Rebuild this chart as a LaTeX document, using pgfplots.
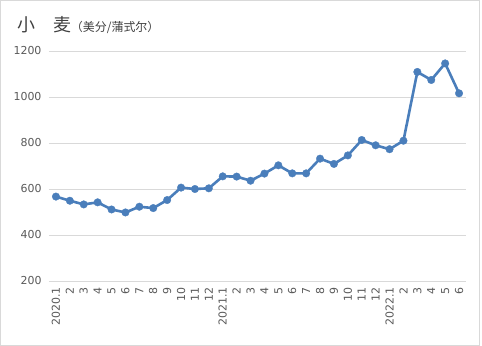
\documentclass[border=0pt]{standalone}
\usepackage{pgfplots}
\pgfplotsset{compat=1.18}
\usepackage{fontspec}
\setmainfont{DejaVu Sans}
\newfontfamily\cjk{Noto Sans CJK SC}
\definecolor{lineblue}{RGB}{74,126,187}
\definecolor{gridgray}{RGB}{217,217,217}
\definecolor{txtgray}{RGB}{89,89,89}
\definecolor{ttlgray}{RGB}{64,64,64}
\pgfplotstableread{
x y
0 567
1 549
2 533
3 542
4 511
5 498
6 523
7 517
8 552
9 606
10 600
11 603
12 655
13 654
14 636
15 667
16 703
17 668
18 668
19 732
20 709
21 746
22 813
23 790
24 773
25 810
26 1109
27 1074
28 1146
29 1016
}\wheat
\begin{document}
\begin{tikzpicture}
\useasboundingbox (0bp,0bp) rectangle (482bp,346bp);
\draw[gridgray,line width=0.8bp] (0.5bp,0.5bp) rectangle (479.5bp,345.5bp);
\node[anchor=base west,text=ttlgray,inner sep=0pt] at (17bp,314bp) {\cjk\fontsize{18}{20}\selectfont 小\quad 麦\fontsize{12}{14}\selectfont （美分/蒲式尔）};
\begin{axis}[
  at={(49bp,65bp)}, anchor=south west,
  scale only axis, width=417bp, height=230bp,
  xmin=-0.5, xmax=29.5, ymin=200, ymax=1200,
  ytick={200,400,...,1200},
  xtick={0,...,29},
  xticklabels={2020.1,2,3,4,5,6,7,8,9,10,11,12,2021.1,2,3,4,5,6,7,8,9,10,11,12,2022.1,2,3,4,5,6},
  axis line style={draw=none},
  major tick length=0pt,
  ymajorgrids, grid style={gridgray,line width=0.8bp},
  yticklabel style={font=\fontsize{11}{13}\selectfont, text=txtgray},
  xticklabel style={font=\fontsize{11}{13}\selectfont, text=txtgray, rotate=90, anchor=east},
  yticklabel shift=4bp,
  xticklabel shift=3bp,
  /pgf/number format/assume math mode=true,
  /pgf/number format/1000 sep={},
  clip=false,
]
\addplot[lineblue, line width=2.6bp, mark=*, mark size=3.8bp, mark options={solid,fill=lineblue,draw=lineblue,line width=0.3bp}] table[x=x,y=y] {\wheat};
\end{axis}
\end{tikzpicture}
\end{document}
